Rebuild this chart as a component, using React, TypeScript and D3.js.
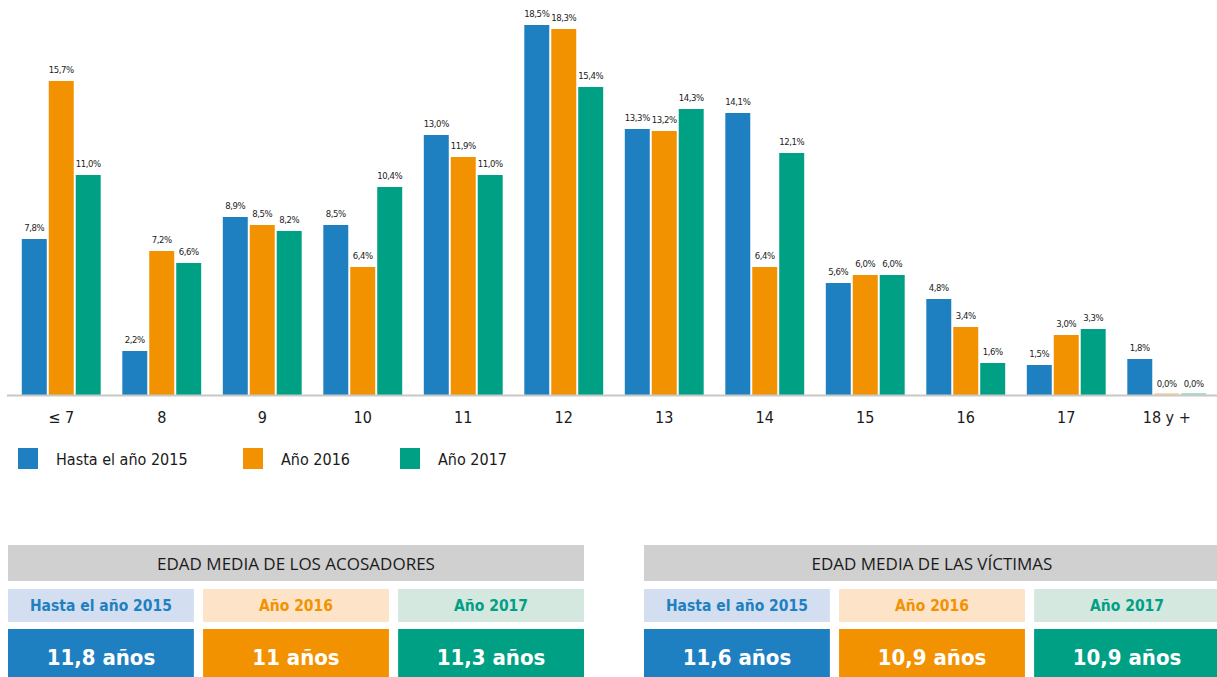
import React from "react";
import * as d3 from "d3";

const categories = ["≤ 7", "8", "9", "10", "11", "12", "13", "14", "15", "16", "17", "18 y +"];
const seriesNames = ["Hasta el año 2015", "Año 2016", "Año 2017"];
const hasta2015 = [7.8, 2.2, 8.9, 8.5, 13.0, 18.5, 13.3, 14.1, 5.6, 4.8, 1.5, 1.8];
const ano2016 = [15.7, 7.2, 8.5, 6.4, 11.9, 18.3, 13.2, 6.4, 6.0, 3.4, 3.0, 0.0];
const ano2017 = [11.0, 6.6, 8.2, 10.4, 11.0, 15.4, 14.3, 12.1, 6.0, 1.6, 3.3, 0.0];

const acosadoresTitle = "EDAD MEDIA DE LOS ACOSADORES";
const acosadoresValues = ["11,8 años", "11 años", "11,3 años"];
const victimasTitle = "EDAD MEDIA DE LAS VÍCTIMAS";
const victimasValues = ["11,6 años", "10,9 años", "10,9 años"];

const colors = ["#1f80c1", "#f39200", "#00a085"];
const lightColors = ["#d3dff1", "#fde4c9", "#d5e8e0"];

const width = 1217;
const height = 677;
const baseY = 395;
const cond = "'DejaVu Sans Condensed', 'Liberation Sans Narrow', sans-serif";

const fmt = (v: number) => v.toFixed(1).replace(".", ",") + "%";

const Table = ({ x0, title, values }: { x0: number; title: string; values: string[] }) => {
  const cx = d3.scaleBand<number>().domain([0, 1, 2]).range([x0, x0 + 576]).paddingInner(0.047);
  return (
    <g>
      <rect x={x0} y={545} width={576} height={36} fill="#d0d0d0" />
      <text x={x0 + 288} y={570} textAnchor="middle" fontFamily="'Open Sans', sans-serif" fontSize={17} fill="#1a1a1a">
        {title}
      </text>
      {seriesNames.map((s, i) => (
        <g key={s}>
          <rect x={cx(i)} y={589} width={cx.bandwidth()} height={33} fill={lightColors[i]} />
          <text x={cx(i)! + cx.bandwidth() / 2} y={611} textAnchor="middle" fontFamily={cond} fontWeight="bold" fontSize={15.5} fill={colors[i]}>
            {s}
          </text>
          <rect x={cx(i)} y={629} width={cx.bandwidth()} height={48} fill={colors[i]} />
          <text x={cx(i)! + cx.bandwidth() / 2} y={665} textAnchor="middle" fontFamily={cond} fontWeight="bold" fontSize={22} fill="#fff">
            {values[i]}
          </text>
        </g>
      ))}
    </g>
  );
};

const App = () => {
  const series = [hasta2015, ano2016, ano2017];
  const x = d3.scaleBand<string>().domain(categories).range([11, 1217]).paddingInner(0.215).paddingOuter(0.1075);
  const xs = d3.scaleBand<number>().domain([0, 1, 2]).range([0, x.bandwidth()]).paddingInner(0.074);
  const y = d3.scaleLinear().domain([0, 18.5]).range([baseY, 25]);

  return (
    <svg width={width} height={height} style={{ position: "absolute", left: 0, top: 0, background: "#fff" }}>
      {categories.map((c, ci) => (
        <g key={c} transform={`translate(${x(c)},0)`}>
          {series.map((vals, si) => {
            const v = vals[ci];
            const bx = xs(si)!;
            return (
              <g key={si}>
                {v > 0 ? (
                  <rect x={bx} y={y(v)} width={xs.bandwidth()} height={baseY - y(v)} fill={colors[si]} />
                ) : (
                  <rect x={bx} y={baseY - 2} width={xs.bandwidth()} height={2} fill={colors[si]} opacity={0.35} />
                )}
                <text x={bx + xs.bandwidth() / 2} y={y(v) - 8} textAnchor="middle" fontFamily={cond} fontSize={9.5} letterSpacing={-0.4} fill="#222">
                  {fmt(v)}
                </text>
              </g>
            );
          })}
          <text x={x.bandwidth() / 2} y={423} textAnchor="middle" fontFamily={cond} fontSize={16} fill="#1a1a1a">
            {c}
          </text>
        </g>
      ))}
      <line x1={7} x2={1217} y1={baseY + 0.5} y2={baseY + 0.5} stroke="#c8c8c8" strokeWidth={2} />

      {seriesNames.map((s, i) => {
        const lx = [18, 243, 400][i];
        return (
          <g key={s}>
            <rect x={lx} y={448} width={20} height={21} fill={colors[i]} />
            <text x={lx + 38} y={465} fontFamily={cond} fontSize={16} fill="#1a1a1a">
              {s}
            </text>
          </g>
        );
      })}

      <Table x0={8} title={acosadoresTitle} values={acosadoresValues} />
      <Table x0={644} title={victimasTitle} values={victimasValues} />
    </svg>
  );
};

export default App;
